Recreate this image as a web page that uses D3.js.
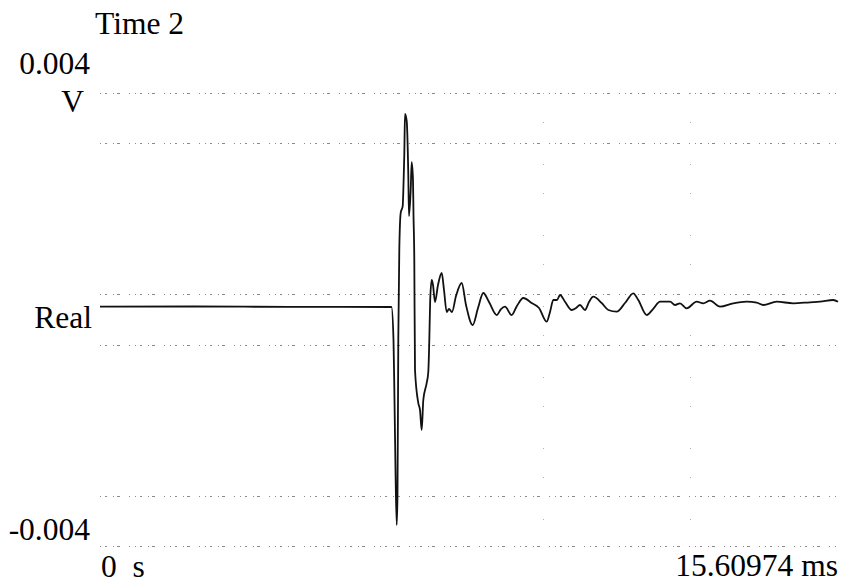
<!DOCTYPE html>
<html>
<head>
<meta charset="utf-8">
<script src="https://cdn.jsdelivr.net/npm/d3@7"></script>
<style>
  html, body { margin: 0; padding: 0; background: #fff; }
  svg { display: block; }
  text { font-family: "Liberation Serif", "Times New Roman", serif; fill: #000; white-space: pre; }
</style>
</head>
<body>
<svg id="chart" width="844" height="585"></svg>
<script>
// ---- data ----
const title = "Time 2";
const unitLabel = "V";
const traceLabel = "Real";
const yDomain = [-0.004, 0.004];          // V
const xDomain = [0, 15.60974];            // ms
const yTickLabels = ["0.004", "-0.004"];
const xTickLabels = ["0  s", "15.60974 ms"];
// visible horizontal grid lines (9-division grid, some lost in the original)
const gridY = [0.004, 0.003111, 0.000444, -0.000444, -0.003111, -0.004];
const gridX = [9.366, 12.488];

// time in ms
const timeMs = [
  0, 2.0, 4.0, 6.1656, 6.2079, 6.2290, 6.2502, 6.2756, 6.2925, 6.3094,
  6.3306, 6.3602, 6.4025, 6.4194, 6.4363, 6.4512, 6.4871, 6.5210, 6.5358, 6.5717,
  6.5929, 6.6204, 6.6310, 6.6479, 6.6627, 6.7325, 6.7684, 6.8044, 6.8383, 6.9102,
  6.9440, 6.9652, 6.9842, 7.0160, 7.0434, 7.0857, 7.1492, 7.2275, 7.2761, 7.3333,
  7.3821, 7.4453, 7.5299, 7.6505, 7.7414, 7.8832, 7.9953, 8.1074, 8.2280, 8.3908,
  8.4817, 8.5663, 8.7061, 8.8182, 8.9534, 9.1290, 9.2855, 9.4483, 9.5181, 9.5879,
  9.6662, 9.7296, 9.8354, 9.9771, 10.0681, 10.1527, 10.2584, 10.3430, 10.4340, 10.6116,
  10.7512, 10.9289, 11.1045, 11.2801, 11.3859, 11.5635, 11.6968, 11.8465, 12.0580, 12.1621,
  12.2675, 12.4092, 12.6207, 12.7603, 12.9024, 13.1139, 13.3952, 13.6787, 13.8902, 14.0298,
  14.3132, 14.6643, 15.0175, 15.2290, 15.5100, 15.6097
];
// real part in V
const realV = [
  0.000226, 0.000230, 0.000222, 0.000221, -0.000362, -0.001422, -0.002658, -0.003629, -0.003099, -0.000362,
  0.001227, 0.001881, 0.002004, 0.002375, 0.002905, 0.003629, 0.003506, 0.002552, 0.001828, 0.002287,
  0.002781, 0.002464, 0.001845, 0.001051, -0.000892, -0.001475, -0.001598, -0.001951, -0.001422, -0.001121,
  -0.000927, -0.000362, 0.000344, 0.000698, 0.000609, 0.000309, 0.000609, 0.000821, 0.000521, 0.000132,
  0.000185, 0.000132, 0.000415, 0.000645, 0.000256, -0.000097, 0.000203, 0.000468, 0.000309, 0.000079,
  0.000185, 0.000226, 0.000079, 0.000238, 0.000380, 0.000291, 0.000203, -0.000039, 0.000132, 0.000344,
  0.000344, 0.000433, 0.000314, 0.000168, 0.000203, 0.000256, 0.000168, 0.000309, 0.000403, 0.000291,
  0.000168, 0.000138, 0.000291, 0.000463, 0.000344, 0.000079, 0.000185, 0.000314, 0.000314, 0.000256,
  0.000286, 0.000198, 0.000314, 0.000286, 0.000332, 0.000226, 0.000286, 0.000314, 0.000297, 0.000256,
  0.000314, 0.000286, 0.000304, 0.000314, 0.000344, 0.000314
];

// ---- drawing ----
const svg = d3.select("#chart");
const W = 844, H = 585;
const plot = { left: 100, right: 838, top: 93, bottom: 546 };

svg.append("rect").attr("width", W).attr("height", H).attr("fill", "#fff");

const x = d3.scaleLinear().domain(xDomain).range([plot.left, plot.right]);
const y = d3.scaleLinear().domain(yDomain).range([plot.bottom, plot.top]);

// horizontal dotted grid
svg.append("g").selectAll("line").data(gridY).join("line")
  .attr("x1", x(xDomain[0])).attr("x2", x(xDomain[1]))
  .attr("y1", d => Math.round(y(d)) + 0.5).attr("y2", d => Math.round(y(d)) + 0.5)
  .attr("stroke", "#8a8a8a").attr("stroke-width", 1)
  .attr("stroke-dasharray", "1,4,2,6,1,3,3,9,1,5");

// vertical faint grid remnants
svg.append("g").selectAll("line").data(gridX).join("line")
  .attr("x1", d => Math.round(x(d)) + 0.5).attr("x2", d => Math.round(x(d)) + 0.5)
  .attr("y1", y(yDomain[1])).attr("y2", y(yDomain[0]))
  .attr("stroke", "#b0b0b0").attr("stroke-width", 1)
  .attr("stroke-dasharray", "1,28,1,41");

// trace
const data = timeMs.map((t, i) => ({ t, v: realV[i] }));
const line = d3.line().x(d => x(d.t)).y(d => y(d.v)).curve(d3.curveMonotoneX);
svg.append("path").datum(data)
  .attr("d", line)
  .attr("fill", "none")
  .attr("stroke", "#111")
  .attr("stroke-width", 1.8)
  .attr("stroke-linejoin", "round");

// labels
const fs = 31.5;
svg.append("text").attr("x", 95).attr("y", 34).attr("font-size", fs).text(title);
svg.append("text").attr("x", 90).attr("y", y(yDomain[1]) - 19)
  .attr("text-anchor", "end").attr("font-size", fs).text(yTickLabels[0]);
svg.append("text").attr("x", 84).attr("y", y(yDomain[1]) + 19)
  .attr("text-anchor", "end").attr("font-size", fs).text(unitLabel);
svg.append("text").attr("x", 92).attr("y", y(0) + 8)
  .attr("text-anchor", "end").attr("font-size", fs).text(traceLabel);
svg.append("text").attr("x", 90).attr("y", y(yDomain[0]) - 6)
  .attr("text-anchor", "end").attr("font-size", fs).text(yTickLabels[1]);
svg.append("text").attr("x", x(xDomain[0]) + 1).attr("y", 577)
  .attr("text-anchor", "start").attr("font-size", fs).text(xTickLabels[0]);
svg.append("text").attr("x", x(xDomain[1])).attr("y", 576)
  .attr("text-anchor", "end").attr("font-size", fs).text(xTickLabels[1]);
</script>
</body>
</html>
